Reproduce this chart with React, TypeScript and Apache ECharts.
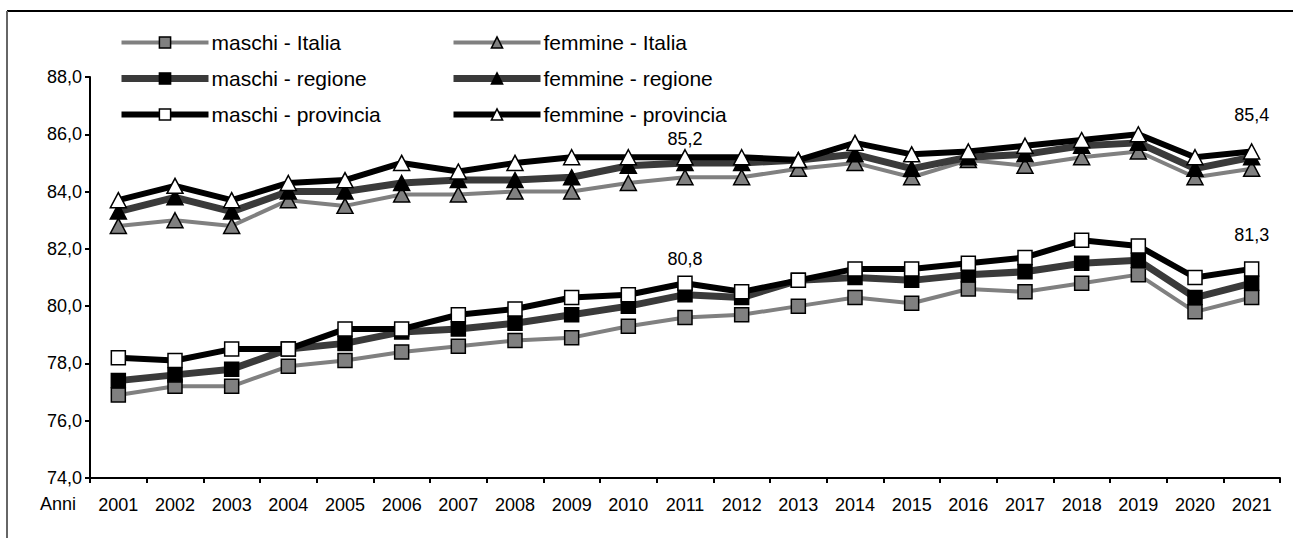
import React, { useEffect, useRef } from "react";
import * as echarts from "echarts";

const years = ["2001","2002","2003","2004","2005","2006","2007","2008","2009","2010","2011","2012","2013","2014","2015","2016","2017","2018","2019","2020","2021"];
const maschiItalia = [76.9, 77.2, 77.2, 77.9, 78.1, 78.4, 78.6, 78.8, 78.9, 79.3, 79.6, 79.7, 80.0, 80.3, 80.1, 80.6, 80.5, 80.8, 81.1, 79.8, 80.3];
const maschiRegione = [77.4, 77.6, 77.8, 78.5, 78.7, 79.1, 79.2, 79.4, 79.7, 80.0, 80.4, 80.3, 80.9, 81.0, 80.9, 81.1, 81.2, 81.5, 81.6, 80.3, 80.8];
const maschiProvincia = [78.2, 78.1, 78.5, 78.5, 79.2, 79.2, 79.7, 79.9, 80.3, 80.4, 80.8, 80.5, 80.9, 81.3, 81.3, 81.5, 81.7, 82.3, 82.1, 81.0, 81.3];
const femmineItalia = [82.8, 83.0, 82.8, 83.7, 83.5, 83.9, 83.9, 84.0, 84.0, 84.3, 84.5, 84.5, 84.8, 85.0, 84.5, 85.1, 84.9, 85.2, 85.4, 84.5, 84.8];
const femmineRegione = [83.3, 83.8, 83.3, 84.0, 84.0, 84.3, 84.4, 84.4, 84.5, 84.9, 85.0, 85.0, 85.1, 85.3, 84.8, 85.2, 85.3, 85.6, 85.7, 84.8, 85.2];
const femmineProvincia = [83.7, 84.2, 83.7, 84.3, 84.4, 85.0, 84.7, 85.0, 85.2, 85.2, 85.2, 85.2, 85.1, 85.7, 85.3, 85.4, 85.6, 85.8, 86.0, 85.2, 85.4];
const labelledYears = ["2011", "2021"];
const yMin = 74;
const yMax = 88;
const yStep = 2;

const FONT = "'Liberation Sans', Arial, sans-serif";
const fmt = (v: number) => v.toFixed(1).replace(".", ",");

export default function App() {
  const ref = useRef<HTMLDivElement>(null);
  useEffect(() => {
    document.body.style.margin = "0";
    if (!ref.current) return;
    const chart = echarts.init(ref.current, null, { renderer: "svg" });

    const labelDist: Record<string, number[]> = {
      maschiProvincia: [7, 17],
      femmineProvincia: [1, 19],
    };

    const styles: Record<string, { color: any; width: number; symbol: string; fill: string; z: number }> = {
      maschiItalia: { color: "#808080", width: 4, symbol: "rect", fill: "#808080", z: 2 },
      femmineItalia: { color: "#808080", width: 4, symbol: "triangle", fill: "#808080", z: 2 },
      maschiRegione: { color: "#3a3a3a", width: 7, symbol: "rect", fill: "#000", z: 3 },
      femmineRegione: { color: "#3a3a3a", width: 7, symbol: "triangle", fill: "#000", z: 3 },
      maschiProvincia: { color: "#000", width: 6, symbol: "rect", fill: "#fff", z: 4 },
      femmineProvincia: { color: "#000", width: 6, symbol: "triangle", fill: "#fff", z: 4 },
    };

    const mk = (name: string, key: string, values: number[]) => {
      const s = styles[key];
      return {
        name,
        type: "line",
        z: s.z,
        symbol: s.symbol,
        symbolSize: s.symbol === "triangle" ? [16, 15] : 14,
        lineStyle: { color: s.color, width: s.width },
        itemStyle: { color: s.fill, borderColor: "#000", borderWidth: 1.5 },
        emphasis: { disabled: true },
        data: values.map((v, i) => {
          const li = labelledYears.indexOf(years[i]);
          if (labelDist[key] && li >= 0) {
            return {
              value: v,
              label: {
                show: true,
                position: "top",
                distance: labelDist[key][li],
                formatter: (p: any) => fmt(p.value),
                color: "#000",
                fontFamily: FONT,
                fontSize: 18,
              },
            };
          }
          return v;
        }),
      };
    };

    const defs: [string, string, number[]][] = [
      ["maschi - Italia", "maschiItalia", maschiItalia],
      ["femmine - Italia", "femmineItalia", femmineItalia],
      ["maschi - regione", "maschiRegione", maschiRegione],
      ["femmine - regione", "femmineRegione", femmineRegione],
      ["maschi - provincia", "maschiProvincia", maschiProvincia],
      ["femmine - provincia", "femmineProvincia", femmineProvincia],
    ];
    const series = defs.map(([n, k, v]) => mk(n, k, v));

    const legendItem = (i: number) => {
      const [name, key] = defs[i];
      const s = styles[key];
      return {
        name,
        lineStyle: { color: s.color, width: s.width },
        itemStyle: { color: s.fill, borderColor: "#000", borderWidth: 1.5 },
      };
    };

    const legendCommon = {
      orient: "vertical",
      top: 32,
      itemWidth: 87,
      itemHeight: 14,
      itemGap: 15,
      padding: 0,
      selectedMode: false,
      textStyle: { fontFamily: FONT, fontSize: 21, color: "#000", padding: [0, 0, 0, -2] },
    };

    chart.setOption({
      animation: false,
      backgroundColor: "#fff",
      grid: { left: 90, right: 13, top: 77, bottom: 60, containLabel: false },
      legend: [
        { ...legendCommon, left: 118, data: [legendItem(0), legendItem(2), legendItem(4)] },
        { ...legendCommon, left: 450, data: [legendItem(1), legendItem(3), legendItem(5)] },
      ],
      xAxis: {
        type: "category",
        data: years,
        boundaryGap: true,
        axisLine: { lineStyle: { color: "#000", width: 2 } },
        axisTick: { show: true, length: 5, lineStyle: { color: "#000", width: 2 } },
        axisLabel: { color: "#000", fontFamily: FONT, fontSize: 18, margin: 18, interval: 0 },
        splitLine: { show: false },
      },
      yAxis: {
        type: "value",
        min: yMin,
        max: yMax,
        interval: yStep,
        axisLine: { show: true, lineStyle: { color: "#000", width: 2 } },
        axisTick: { show: true, length: 5, lineStyle: { color: "#000", width: 2 } },
        axisLabel: { color: "#000", fontFamily: FONT, fontSize: 18, margin: 8, formatter: (v: number) => fmt(v) },
        splitLine: { show: false },
      },
      graphic: [
        { type: "line", shape: { x1: 7, y1: 11, x2: 1293, y2: 11 }, style: { stroke: "#000", lineWidth: 2 } },
        { type: "line", shape: { x1: 7, y1: 11, x2: 7, y2: 538 }, style: { stroke: "#666", lineWidth: 2 } },
        {
          type: "text",
          left: 40,
          top: 495,
          style: { text: "Anni", fill: "#000", font: `18px ${FONT}` },
        },
      ],
      series,
    });
    return () => chart.dispose();
  }, []);
  return <div ref={ref} style={{ width: 1293, height: 538 }} />;
}
